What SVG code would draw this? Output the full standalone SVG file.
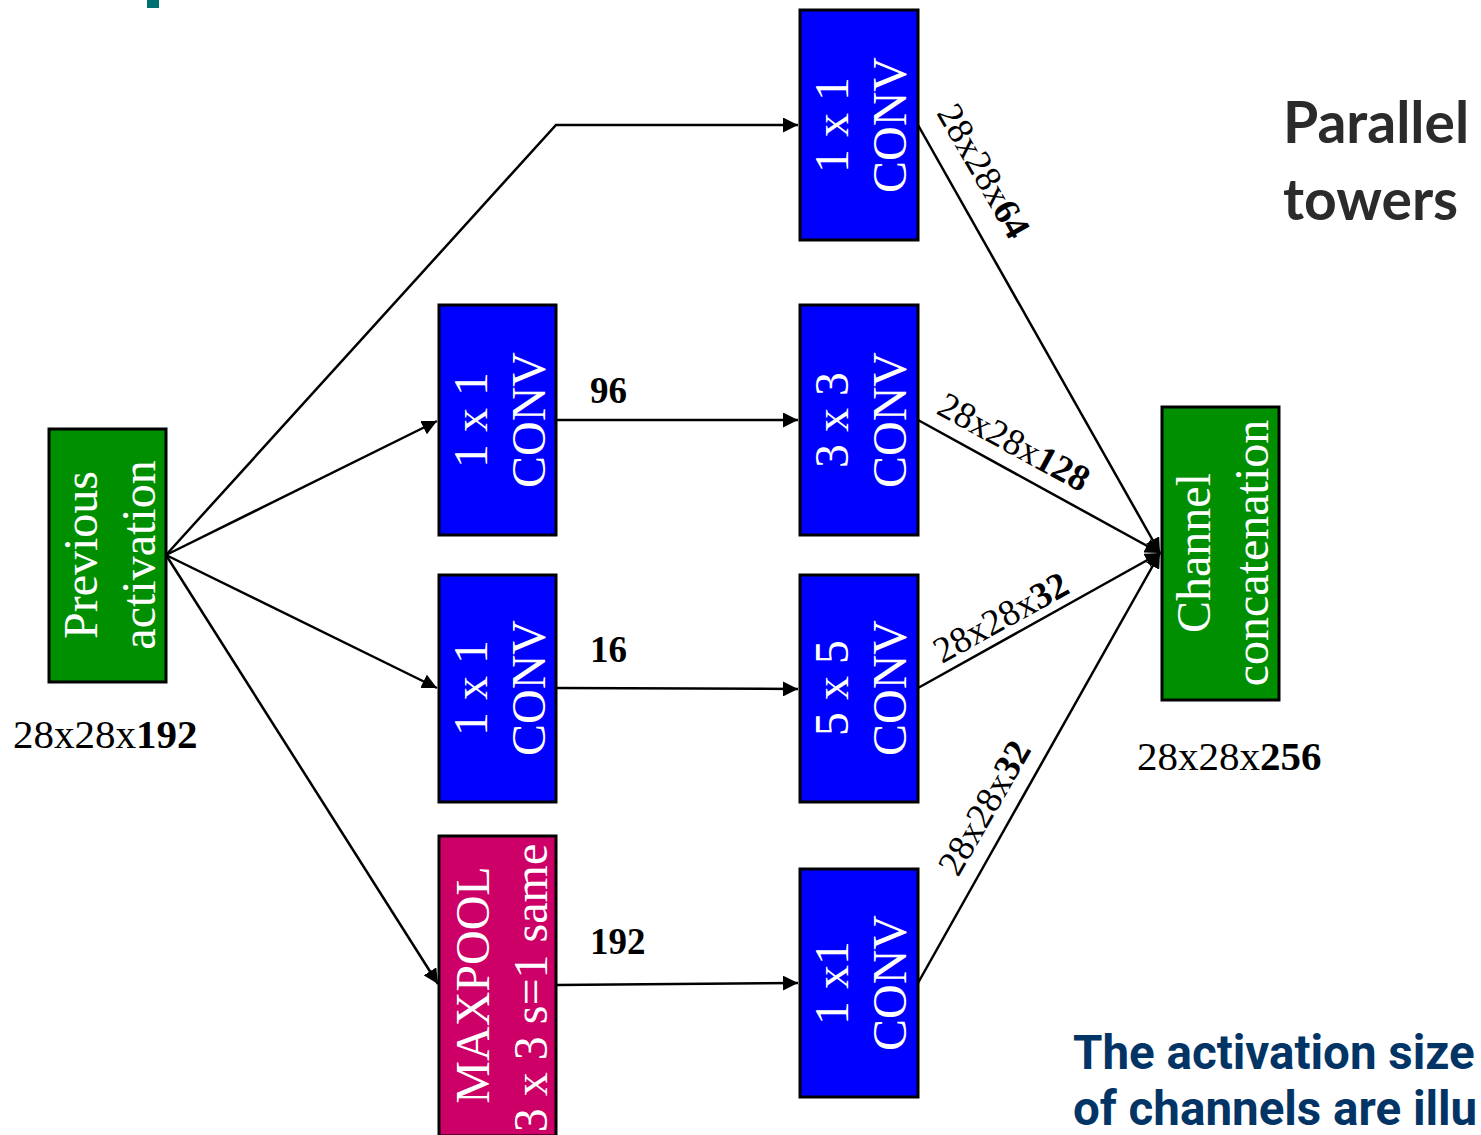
<svg xmlns="http://www.w3.org/2000/svg" width="1481" height="1135" viewBox="0 0 1481 1135">
<style>
.box{stroke:#000;stroke-width:3}
.blue{fill:#0000ff}
.green{fill:#008f00}
.pink{fill:#cc0066}
.nt{font-family:"Liberation Serif","Times New Roman",serif;font-size:48px;fill:#fff;text-anchor:middle}
.lbl{font-family:"Liberation Serif","Times New Roman",serif;font-size:37px;fill:#000}
.dim{font-family:"Liberation Serif","Times New Roman",serif;font-size:41px;fill:#000}
.b{font-weight:bold}
.conn{stroke:#000;stroke-width:2.5;fill:none}
.side{font-family:Lato,"Open Sans","Liberation Sans",sans-serif;font-weight:bold;font-size:57px;fill:#2b2b2b}
.note{font-family:Roboto,"Liberation Sans",sans-serif;font-weight:bold;font-size:47.5px;fill:#023466}
</style>
<defs>
<marker id="ah" viewBox="0 0 10 10" refX="10" refY="5" markerWidth="6" markerHeight="6" markerUnits="strokeWidth" orient="auto">
<path d="M0,0 L10,5 L0,10 z" fill="#000"/>
</marker>
</defs>
<rect x="147" y="0" width="12" height="8" fill="#007070"/>
<g id="connectors">
<polyline class="conn" points="166,555 556,125 798,125" marker-end="url(#ah)"/>
<line class="conn" x1="166" y1="555" x2="437" y2="421" marker-end="url(#ah)"/>
<line class="conn" x1="166" y1="555" x2="437" y2="688" marker-end="url(#ah)"/>
<line class="conn" x1="166" y1="555" x2="438" y2="984" marker-end="url(#ah)"/>
<line class="conn" x1="556" y1="420" x2="798" y2="420" marker-end="url(#ah)"/>
<line class="conn" x1="556" y1="688" x2="798" y2="689" marker-end="url(#ah)"/>
<line class="conn" x1="556" y1="985" x2="798" y2="983" marker-end="url(#ah)"/>
<line class="conn" x1="918" y1="125" x2="1160" y2="553" marker-end="url(#ah)"/>
<line class="conn" x1="918" y1="420" x2="1160" y2="553" marker-end="url(#ah)"/>
<line class="conn" x1="918" y1="688" x2="1160" y2="553" marker-end="url(#ah)"/>
<line class="conn" x1="918" y1="983" x2="1160" y2="553" marker-end="url(#ah)"/>
<text class="lbl b" x="590" y="403">96</text>
<text class="lbl b" x="590" y="662">16</text>
<text class="lbl b" x="590" y="954">192</text>
<text class="lbl" transform="translate(936,113) rotate(60)">28x28x<tspan class="b">64</tspan></text>
<text class="lbl" transform="translate(935,413) rotate(28.6)">28x28x<tspan class="b">128</tspan></text>
<text class="lbl" transform="translate(942,664) rotate(-29)">28x28x<tspan class="b">32</tspan></text>
<text class="lbl" transform="translate(958,878) rotate(-60)">28x28x<tspan class="b">32</tspan></text>
</g>
<g id="prev">
<rect class="box green" x="49" y="429" width="117" height="253"/>
<text class="nt" transform="translate(97,555) rotate(-90)">Previous</text>
<text class="nt" transform="translate(155,555) rotate(-90)">activation</text>
<text class="dim" x="13" y="748">28x28x<tspan class="b">192</tspan></text>
</g>
<g id="conv1x1_top">
<rect class="box blue" x="800" y="10" width="118" height="230"/>
<text class="nt" transform="translate(848,125) rotate(-90)">1 x 1</text>
<text class="nt" transform="translate(906,125) rotate(-90)">CONV</text>
</g>
<g id="conv1x1_a">
<rect class="box blue" x="439" y="305" width="117" height="230"/>
<text class="nt" transform="translate(487,420) rotate(-90)">1 x 1</text>
<text class="nt" transform="translate(545,420) rotate(-90)">CONV</text>
</g>
<g id="conv3x3">
<rect class="box blue" x="800" y="305" width="118" height="230"/>
<text class="nt" transform="translate(848,420) rotate(-90)">3 x 3</text>
<text class="nt" transform="translate(906,420) rotate(-90)">CONV</text>
</g>
<g id="conv1x1_b">
<rect class="box blue" x="439" y="575" width="117" height="227"/>
<text class="nt" transform="translate(487,688) rotate(-90)">1 x 1</text>
<text class="nt" transform="translate(545,688) rotate(-90)">CONV</text>
</g>
<g id="conv5x5">
<rect class="box blue" x="800" y="575" width="118" height="227"/>
<text class="nt" transform="translate(848,688) rotate(-90)">5 x 5</text>
<text class="nt" transform="translate(906,688) rotate(-90)">CONV</text>
</g>
<g id="maxpool">
<rect class="box pink" x="439" y="836" width="117" height="300"/>
<text class="nt" transform="translate(489,985) rotate(-90)">MAXPOOL</text>
<text class="nt" transform="translate(547,988) rotate(-90)">3 x 3 s=1 same</text>
</g>
<g id="conv1x1_c">
<rect class="box blue" x="800" y="869" width="118" height="228"/>
<text class="nt" transform="translate(848,983) rotate(-90)">1 x1</text>
<text class="nt" transform="translate(906,983) rotate(-90)">CONV</text>
</g>
<g id="concat">
<rect class="box green" x="1162" y="407" width="117" height="293"/>
<text class="nt" transform="translate(1210,553) rotate(-90)">Channel</text>
<text class="nt" transform="translate(1268,553) rotate(-90)">concatenation</text>
<text class="dim" x="1137" y="770">28x28x<tspan class="b">256</tspan></text>
</g>
<text class="side" x="1283" y="143">Parallel</text>
<text class="side" x="1283" y="220">towers</text>
<text class="note" x="1073" y="1069">The activation size</text>
<text class="note" x="1073" y="1125">of channels are illu</text>
</svg>
